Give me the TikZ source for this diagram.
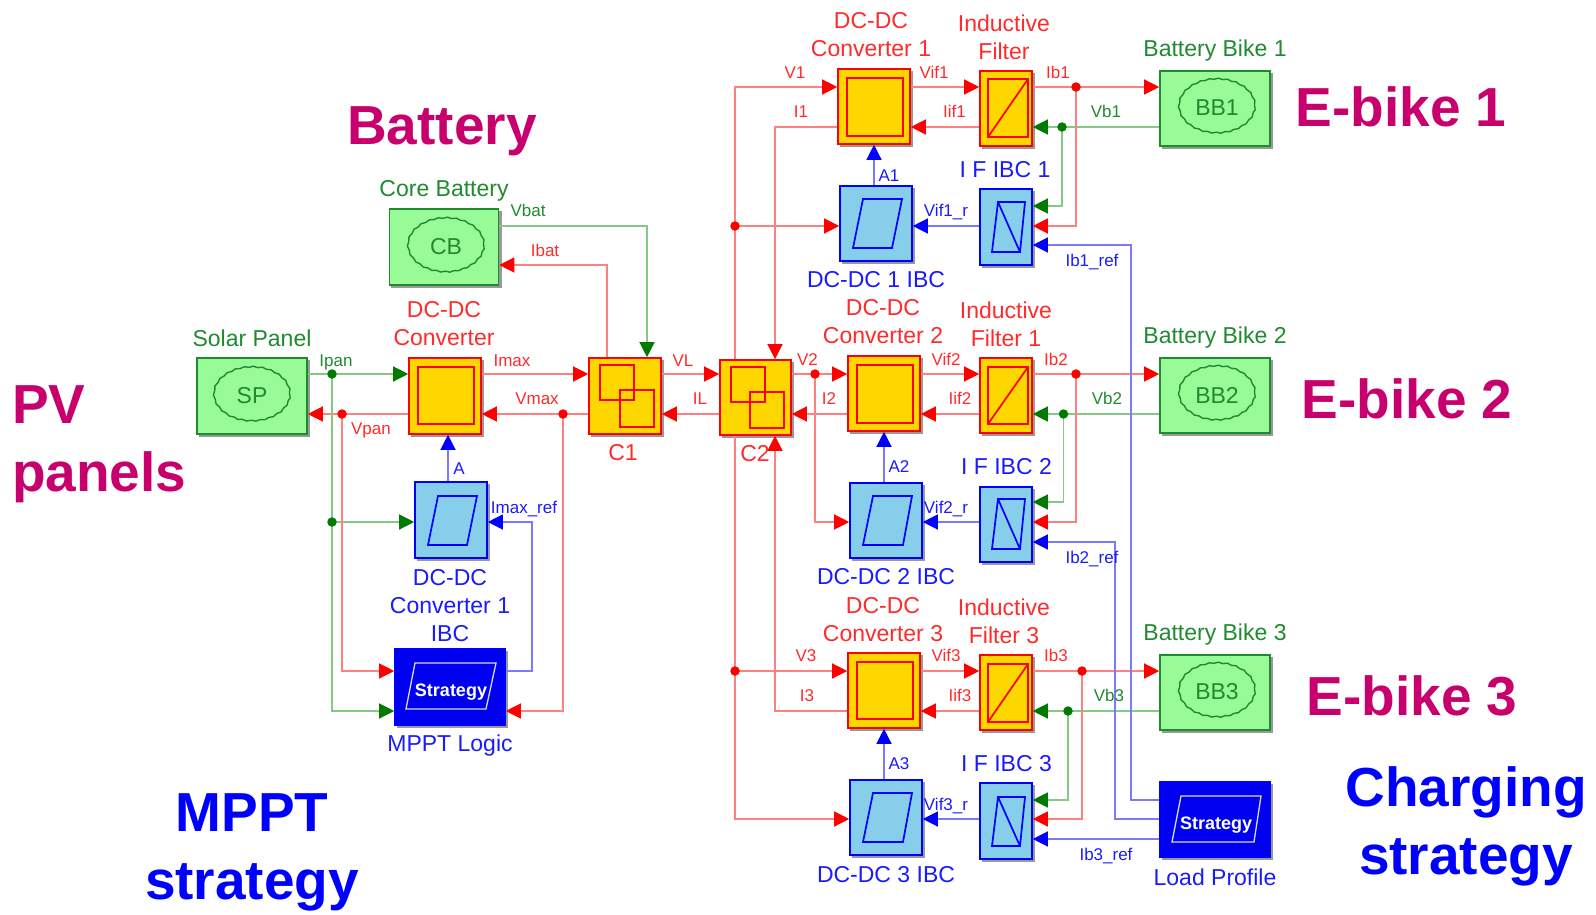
\documentclass[tikz,border=0pt]{standalone}
\usepackage{fontspec}
\setmainfont{Liberation Sans}
\usetikzlibrary{arrows.meta,shapes.geometric,backgrounds,decorations.pathmorphing}
\definecolor{redline}{HTML}{FF8080}
\definecolor{greenline}{HTML}{86C886}
\definecolor{blueline}{HTML}{7A7AFF}
\definecolor{greentxt}{HTML}{1F8A2E}
\definecolor{greendark}{HTML}{007A00}
\definecolor{greenfill}{HTML}{98FB98}
\definecolor{bluefill}{HTML}{87CEEB}
\definecolor{goldfill}{HTML}{FFD700}
\definecolor{redtxt}{HTML}{FF2A2A}
\definecolor{bluetxt}{HTML}{1A1AFF}
\definecolor{magentatxt}{HTML}{C8006E}
\definecolor{strongblue}{HTML}{0000F0}
\tikzset{
  x=1pt,y=-1pt,
  blockbase/.style={rectangle,inner sep=0pt,line width=1.6pt},
  blocksize/.style 2 args={minimum width=#1pt,minimum height=#2pt},
  goldblock/.style={blockbase,draw=red,fill=goldfill},
  ibcblock/.style={blockbase,draw=blue,fill=bluefill},
  greenblock/.style={blockbase,draw=greentxt,fill=greenfill},
  stratblock/.style={blockbase,draw=blue,fill=strongblue},
  blockshade/.style={fill=black!40},
  redin/.style={draw=red,line width=1.7pt},
  bluein/.style={draw=blue,line width=1.7pt},
  whitein/.style={draw=white!85!blue,line width=1.3pt},
  cloud outline/.style={ellipse,draw=greentxt,line width=1.4pt,inner sep=0pt,minimum width=76pt,minimum height=54pt,
    text=greentxt,font=\fontsize{23}{26}\selectfont,
    decorate,decoration={snake,segment length=9pt,amplitude=.55pt}},
  rwire/.style={draw=redline,line width=1.3pt,-{Triangle[length=15pt,width=15pt,color=red]}},
  gwire/.style={draw=greenline,line width=1.3pt,-{Triangle[length=15pt,width=15pt,color=greendark]}},
  bwire/.style={draw=blueline,line width=1.3pt,-{Triangle[length=15pt,width=15pt,color=blue]}},
  rdot/.style={circle,fill=red,inner sep=0pt,minimum size=9.5pt},
  gdot/.style={circle,fill=greendark,inner sep=0pt,minimum size=9.5pt},
  sigtxt/.style={inner sep=0pt,font=\fontsize{17}{20}\selectfont,text height=12.5pt,text depth=0pt},
  sigr/.style={sigtxt,text=redtxt},
  sigg/.style={sigtxt,text=greentxt},
  sigb/.style={sigtxt,text=bluetxt},
  captxt/.style={inner sep=0pt,align=center,font=\fontsize{23}{28}\selectfont},
  capr/.style={captxt,text=redtxt},
  capg/.style={captxt,text=greentxt},
  capb/.style={captxt,text=bluetxt},
  bigm/.style={inner sep=0pt,align=center,text=magentatxt,font=\fontsize{55}{68}\selectfont\bfseries},
  bigb/.style={inner sep=0pt,align=center,text=blue,font=\fontsize{55}{68}\selectfont\bfseries},
  strattxt/.style={inner sep=0pt,text=white,font=\fontsize{18}{20}\selectfont\bfseries}
}
\begin{document}
\begin{tikzpicture}
\useasboundingbox (0,0) rectangle (1596,915);

% ---------- blocks
\node[greenblock,blocksize={110}{76}] (sp) at (252,396) {};
\node[greenblock,blocksize={109}{76}] (cb) at (444,247) {};
\node[goldblock,blocksize={72}{76}] (conv) at (445,396) {};
\node[goldblock,blocksize={72}{76}] (c1) at (625,396) {};
\node[goldblock,blocksize={71}{75}] (c2) at (755.5,397.5) {};
\node[ibcblock,blocksize={72}{76}] (ibc0) at (451,520) {};
\node[stratblock,blocksize={110}{76}] (mppt) at (450,687) {};

\node[goldblock,blocksize={72}{75}] (conv1) at (874,106.5) {};
\node[goldblock,blocksize={52}{75}] (filt1) at (1006,108.5) {};
\node[greenblock,blocksize={110}{75}] (bb1) at (1215,108.5) {};
\node[ibcblock,blocksize={72}{75}] (ibc1) at (876,223.5) {};
\node[ibcblock,blocksize={52}{76}] (ifb1) at (1006,227) {};

\node[goldblock,blocksize={72}{75}] (conv2) at (884,393.5) {};
\node[goldblock,blocksize={52}{75}] (filt2) at (1006,395.5) {};
\node[greenblock,blocksize={110}{75}] (bb2) at (1215,395.5) {};
\node[ibcblock,blocksize={72}{75}] (ibc2) at (886,520.5) {};
\node[ibcblock,blocksize={52}{75}] (ifb2) at (1006,524.5) {};

\node[goldblock,blocksize={72}{75}] (conv3) at (884,690.5) {};
\node[goldblock,blocksize={52}{75}] (filt3) at (1006,692.5) {};
\node[greenblock,blocksize={110}{75}] (bb3) at (1215,692.5) {};
\node[ibcblock,blocksize={72}{75}] (ibc3) at (886,817.5) {};
\node[ibcblock,blocksize={52}{76}] (ifb3) at (1006,821) {};
\node[stratblock,blocksize={110}{75}] (load) at (1215,819.5) {};

% ---------- block icons
\node[cloud outline] (iconsp) at (252,396) {SP};
\node[cloud outline] (iconcb) at (446,247) {CB};
\node[cloud outline] (iconbb1) at (1217,108) {BB1};
\node[cloud outline] (iconbb2) at (1217,395) {BB2};
\node[cloud outline] (iconbb3) at (1217,692) {BB3};

\draw[redin] (418,367) rectangle (474,424);
\draw[redin] (847,78) rectangle (903,136);
\draw[redin] (857,365) rectangle (913,423);
\draw[redin] (857,662) rectangle (913,719);

\draw[redin] (600,365) rectangle (634,400) (620,390) rectangle (654,427);
\draw[redin] (731,367) rectangle (765,402) (750,392) rectangle (784,428);

\draw[redin] (988,79) rectangle (1028,137) (988,137) -- (1028,79);
\draw[redin] (988,367) rectangle (1028,424) (988,424) -- (1028,367);
\draw[redin] (988,664) rectangle (1028,722) (988,722) -- (1028,664);

\draw[bluein] (438,496) -- (477,496) -- (467,545) -- (428,545) -- cycle;
\draw[bluein] (863,199) -- (902,199) -- (892,248) -- (853,248) -- cycle;
\draw[bluein] (873,496) -- (912,496) -- (903,545) -- (863,545) -- cycle;
\draw[bluein] (873,793) -- (912,793) -- (903,842) -- (863,842) -- cycle;

\draw[bluein] (998,202) -- (1025,202) -- (1020,252) -- (992,252) -- cycle (998,202) -- (1020,252);
\draw[bluein] (998,499) -- (1025,499) -- (1020,549) -- (992,549) -- cycle (998,499) -- (1020,549);
\draw[bluein] (998,797) -- (1025,797) -- (1020,846) -- (992,846) -- cycle (998,797) -- (1020,846);

\draw[whitein] (415,663) -- (496,663) -- (486,709) -- (406,709) -- cycle;
\draw[whitein] (1181,796) -- (1261,796) -- (1254,842) -- (1172,842) -- cycle;
\node[strattxt] (txtmppt) at (451,692) {Strategy};
\node[strattxt] (txtload) at (1216,825) {Strategy};

% ---------- junction dots
\node[gdot] (dIpan) at (332,374) {};
\node[gdot] (dIpanb) at (332,522) {};
\node[rdot] (dVpan) at (342,414) {};
\node[rdot] (dVmax) at (563,414) {};
\node[rdot] (dVa) at (735,226) {};
\node[rdot] (dVb) at (735,671) {};
\node[rdot] (dV2) at (815,374) {};
\node[rdot] (dIb1) at (1076,87) {};
\node[gdot] (dVb1) at (1062,127) {};
\node[rdot] (dIb2) at (1076,374) {};
\node[gdot] (dVb2) at (1063.5,414) {};
\node[rdot] (dIb3) at (1082,671) {};
\node[gdot] (dVb3) at (1068,711) {};

% ---------- connectors
\begin{scope}[on background layer]
\foreach \blk in {sp,cb,conv,c1,c2,ibc0,mppt,conv1,filt1,bb1,ibc1,ifb1,conv2,filt2,bb2,ibc2,ifb2,conv3,filt3,bb3,ibc3,ifb3,load}
  \fill[blockshade] ([shift={(2.6,2.6)}]\blk.north west) rectangle ([shift={(2.6,2.6)}]\blk.south east);

\draw[gwire] (sp.east |- 0,374) -- (conv.west |- 0,374);
\draw[rwire] (conv.west |- 0,414) -- (sp.east |- 0,414);
\draw[gwire] (dIpan.center) |- (mppt.west |- 0,711);
\draw[gwire] (dIpanb.center) -- (ibc0.west |- 0,522);
\draw[rwire] (dVpan.center) |- (mppt.west |- 0,671);
\draw[bwire] (ibc0.north -| 448,0) -- (conv.south -| 448,0);
\draw[bwire] (mppt.east |- 0,671) -- (532,671) -- (532,522) -- (ibc0.east |- 0,522);
\draw[rwire] (conv.east |- 0,374) -- (c1.west |- 0,374);
\draw[rwire] (c1.west |- 0,414) -- (conv.east |- 0,414);
\draw[rwire] (dVmax.center) |- (mppt.east |- 0,711);
\draw[gwire] (cb.east |- 0,226) -- (647,226) -- (c1.north -| 647,0);
\draw[rwire] (c1.north -| 607,0) -- (607,265) -- (cb.east |- 0,265);
\draw[rwire] (c1.east |- 0,374) -- (c2.west |- 0,374);
\draw[rwire] (c2.west |- 0,414) -- (c1.east |- 0,414);

\draw[rwire] (c2.north -| 735,0) -- (735,87) -- (conv1.west |- 0,87);
\draw[rwire] (dVa.center) -- (ibc1.west |- 0,226);
\draw[rwire] (conv1.west |- 0,127) -- (775,127) -- (c2.north -| 775,0);
\draw[rwire] (c2.east |- 0,374) -- (conv2.west |- 0,374);
\draw[rwire] (dV2.center) |- (ibc2.west |- 0,522);
\draw[rwire] (conv2.west |- 0,414) -- (c2.east |- 0,414);
\draw[rwire] (c2.south -| 735,0) -- (735,819) -- (ibc3.west |- 0,819);
\draw[rwire] (dVb.center) -- (conv3.west |- 0,671);
\draw[rwire] (conv3.west |- 0,711) -- (775,711) -- (c2.south -| 775,0);

\draw[rwire] (conv1.east |- 0,87) -- (filt1.west |- 0,87);
\draw[rwire] (filt1.west |- 0,127) -- (conv1.east |- 0,127);
\draw[rwire] (filt1.east |- 0,87) -- (bb1.west |- 0,87);
\draw[gwire] (bb1.west |- 0,127) -- (filt1.east |- 0,127);
\draw[rwire] (dIb1.center) |- (ifb1.east |- 0,226);
\draw[gwire] (dVb1.center) |- (ifb1.east |- 0,206);
\draw[bwire] (ifb1.west |- 0,226) -- (ibc1.east |- 0,226);
\draw[bwire] (ibc1.north -| 874,0) -- (conv1.south -| 874,0);

\draw[rwire] (conv2.east |- 0,374) -- (filt2.west |- 0,374);
\draw[rwire] (filt2.west |- 0,414) -- (conv2.east |- 0,414);
\draw[rwire] (filt2.east |- 0,374) -- (bb2.west |- 0,374);
\draw[gwire] (bb2.west |- 0,414) -- (filt2.east |- 0,414);
\draw[rwire] (dIb2.center) |- (ifb2.east |- 0,522);
\draw[gwire] (dVb2.center) |- (ifb2.east |- 0,502);
\draw[bwire] (ifb2.west |- 0,522) -- (ibc2.east |- 0,522);
\draw[bwire] (ibc2.north -| 884,0) -- (conv2.south -| 884,0);

\draw[rwire] (conv3.east |- 0,671) -- (filt3.west |- 0,671);
\draw[rwire] (filt3.west |- 0,711) -- (conv3.east |- 0,711);
\draw[rwire] (filt3.east |- 0,671) -- (bb3.west |- 0,671);
\draw[gwire] (bb3.west |- 0,711) -- (filt3.east |- 0,711);
\draw[rwire] (dIb3.center) |- (ifb3.east |- 0,819);
\draw[gwire] (dVb3.center) |- (ifb3.east |- 0,800);
\draw[bwire] (ifb3.west |- 0,819) -- (ibc3.east |- 0,819);
\draw[bwire] (ibc3.north -| 884,0) -- (conv3.south -| 884,0);

\draw[bwire] (load.west |- 0,800) -- (1131,800) -- (1131,245) -- (ifb1.east |- 0,245);
\draw[bwire] (load.west |- 0,819) -- (1115,819) -- (1115,542) -- (ifb2.east |- 0,542);
\draw[bwire] (load.west |- 0,839) -- (ifb3.east |- 0,839);
\end{scope}

% ---------- block captions
\node[capg] (tsp) at (252,338) {Solar Panel};
\node[capg] (tcb) at (444,191) {Core Battery};
\node[capr] (tconv) at (444,324) {DC-DC\\Converter};
\node[capr] (tc1) at (623,453) {C1};
\node[capr] (tc2) at (755,454) {C2};
\node[capb] (tibc0) at (450,606) {DC-DC\\Converter 1\\IBC};
\node[capb] (tmppt) at (450,746) {MPPT Logic};

\node[capr] (tconv1) at (871,35) {DC-DC\\Converter 1};
\node[capr] (tfilt1) at (1004,37) {Inductive\\Filter};
\node[capg] (tbb1) at (1215,51) {Battery Bike 1};
\node[capb] (tifb1) at (1005,170) {I F IBC 1};
\node[capb] (tibc1) at (876,280) {DC-DC 1 IBC};

\node[capr] (tconv2) at (883,322) {DC-DC\\Converter 2};
\node[capr] (tfilt2) at (1006,324) {Inductive\\Filter 1};
\node[capg] (tbb2) at (1215,338) {Battery Bike 2};
\node[capb] (tifb2) at (1006.5,467) {I F IBC 2};
\node[capb] (tibc2) at (886,577) {DC-DC 2 IBC};

\node[capr] (tconv3) at (883,620) {DC-DC\\Converter 3};
\node[capr] (tfilt3) at (1004,621) {Inductive\\Filter 3};
\node[capg] (tbb3) at (1215,635) {Battery Bike 3};
\node[capb] (tifb3) at (1006.5,764) {I F IBC 3};
\node[capb] (tibc3) at (886,875) {DC-DC 3 IBC};
\node[capb] (tload) at (1215,877) {Load Profile};

% ---------- signal labels
\node[sigg] (sIpan) at (336,360) {Ipan};
\node[sigr] (sVpan) at (371,428) {Vpan};
\node[sigr] (sImax) at (512,360) {Imax};
\node[sigr] (sVmax) at (537,398) {Vmax};
\node[sigb] (sA) at (459,468) {A};
\node[sigb] (sImaxr) at (524,507) {Imax\_ref};
\node[sigg] (sVbat) at (528,210) {Vbat};
\node[sigr] (sIbat) at (545,250) {Ibat};
\node[sigr] (sVL) at (683,360) {VL};
\node[sigr] (sIL) at (700,398) {IL};

\node[sigr] (sV1) at (795,72) {V1};
\node[sigr] (sI1) at (801,111) {I1};
\node[sigr] (sVif1) at (934,72) {Vif1};
\node[sigr] (sIif1) at (954.5,111) {Iif1};
\node[sigr] (sIb1) at (1058,72) {Ib1};
\node[sigg] (sVb1) at (1106,111) {Vb1};
\node[sigb] (sA1) at (889,175) {A1};
\node[sigb] (sVr1) at (946,210) {Vif1\_r};
\node[sigb] (sIr1) at (1092,260) {Ib1\_ref};

\node[sigr] (sV2) at (807.5,359) {V2};
\node[sigr] (sI2) at (829,398) {I2};
\node[sigr] (sVif2) at (946,359) {Vif2};
\node[sigr] (sIif2) at (960,398) {Iif2};
\node[sigr] (sIb2) at (1056,359) {Ib2};
\node[sigg] (sVb2) at (1107,398) {Vb2};
\node[sigb] (sA2) at (899,466) {A2};
\node[sigb] (sVr2) at (946,507) {Vif2\_r};
\node[sigb] (sIr2) at (1092,557) {Ib2\_ref};

\node[sigr] (sV3) at (806,655) {V3};
\node[sigr] (sI3) at (807,695) {I3};
\node[sigr] (sVif3) at (946,655) {Vif3};
\node[sigr] (sIif3) at (960,695) {Iif3};
\node[sigr] (sIb3) at (1056,655) {Ib3};
\node[sigg] (sVb3) at (1109,695) {Vb3};
\node[sigb] (sA3) at (899,763) {A3};
\node[sigb] (sVr3) at (946,804) {Vif3\_r};
\node[sigb] (sIr3) at (1106,854) {Ib3\_ref};

% ---------- section titles
\node[bigm] (hbat) at (442,131) {Battery};
\node[bigm,anchor=west,align=left] (hpv) at (12,444) {PV\\panels};
\node[bigm] (he1) at (1401,107) {E-bike 1};
\node[bigm] (he2) at (1407,399) {E-bike 2};
\node[bigm] (he3) at (1412,696) {E-bike 3};
\node[bigb] (hmppt) at (252,852) {MPPT\\strategy};
\node[bigb] (hchg) at (1466,826) {Charging\\strategy};
\end{tikzpicture}
\end{document}
